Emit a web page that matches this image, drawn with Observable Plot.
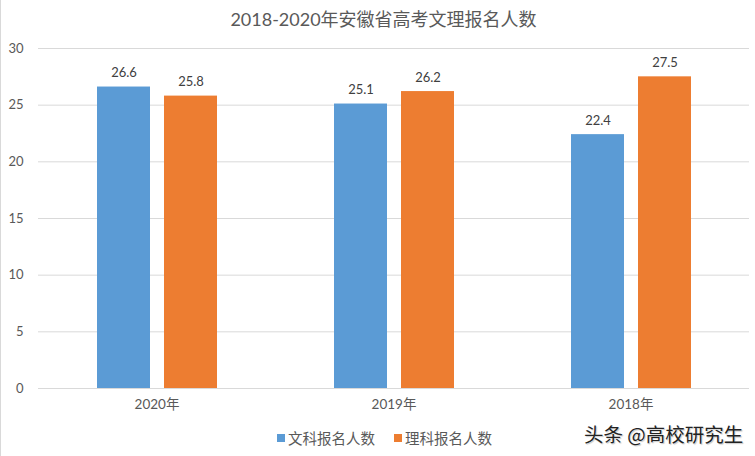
<!DOCTYPE html>
<html>
<head>
<meta charset="utf-8">
<script src="https://cdn.jsdelivr.net/npm/d3@7"></script>
<script src="https://cdn.jsdelivr.net/npm/@observablehq/plot@0.6"></script>
<style>
  html, body { margin: 0; padding: 0; background: #fff; }
  #wrap { position: relative; width: 755px; height: 456px; overflow: hidden; font-family: Lato, "Noto Sans CJK SC", sans-serif; }
  #border { position: absolute; left: 0; top: 0; width: 1px; height: 456px; background: #d9d9d9; }
  #title { position: absolute; left: 6px; width: 755px; top: 5px; text-align: center; font-size: 18px; color: #595959; font-family: Lato, "Noto Sans CJK SC", sans-serif; }
  #chart { position: absolute; left: 0; top: 0; }
  #legend { position: absolute; top: 427px; left: 277px; font-size: 14.5px; color: #595959; display: flex; align-items: center; }
  .sw { display: inline-block; width: 8px; height: 8px; margin-right: 3px; }
  .item { display: flex; align-items: center; margin-right: 19px; }
  #wm { position: absolute; left: 584px; top: 419px; font-size: 19.5px; color: #222; font-family: "Noto Sans CJK SC", sans-serif; text-shadow: 0 0 2px #fff, 1px 1px 1px #bbb; }
</style>
</head>
<body>
<div id="wrap">
  <div id="chart"></div>
  <div id="border"></div>
  <div id="title"></div>
  <div id="legend"></div>
  <div id="wm">头条 @高校研究生</div>
</div>
<script>
const titleText = "2018-2020年安徽省高考文理报名人数";
const years = ["2020年", "2019年", "2018年"];
const series = ["文科报名人数", "理科报名人数"];
const wenke = [26.6, 25.1, 22.4];
const like = [25.8, 26.2, 27.5];
const yTicks = [0, 5, 10, 15, 20, 25, 30];
const colors = ["#5B9BD5", "#ED7D31"];

const rows = [];
years.forEach((yr, i) => {
  rows.push({year: yr, series: series[0], value: wenke[i]});
  rows.push({year: yr, series: series[1], value: like[i]});
});

document.getElementById("title").textContent = titleText;

const plot = Plot.plot({
  width: 755,
  height: 456,
  marginTop: 48,
  marginBottom: 68,
  marginLeft: 38,
  marginRight: 6,
  style: {fontFamily: 'Lato, "Noto Sans CJK SC", sans-serif', fontSize: "13px", background: "transparent"},
  fx: {domain: years, padding: 0, label: null, axis: null},
  x: {domain: series, paddingInner: 0.21, paddingOuter: 0.873, axis: null},
  y: {domain: [0, 30], label: null, axis: null},
  color: {domain: series, range: colors},
  marks: [
    Plot.gridY(yTicks, {stroke: "#d9d9d9", strokeOpacity: 1}),
    Plot.barY(rows, {fx: "year", x: "series", y: "value", fill: "series"}),
    Plot.text(rows, {fx: "year", x: "series", y: "value", text: d => d.value.toFixed(1), dy: -14, fontSize: 13, fill: "#404040"}),
    Plot.axisY(yTicks, {tickSize: 0, tickPadding: 15, fontSize: 13, fill: "#595959", label: null}),
    Plot.axisFx({anchor: "bottom", tickSize: 0, tickPadding: 11, fontSize: 13.5, fill: "#595959", label: null})
  ]
});
document.getElementById("chart").appendChild(plot);

const legend = document.getElementById("legend");
series.forEach((s, i) => {
  const item = document.createElement("span");
  item.className = "item";
  const sw = document.createElement("span");
  sw.className = "sw";
  sw.style.background = colors[i];
  item.appendChild(sw);
  item.appendChild(document.createTextNode(s));
  legend.appendChild(item);
});
</script>
</body>
</html>
